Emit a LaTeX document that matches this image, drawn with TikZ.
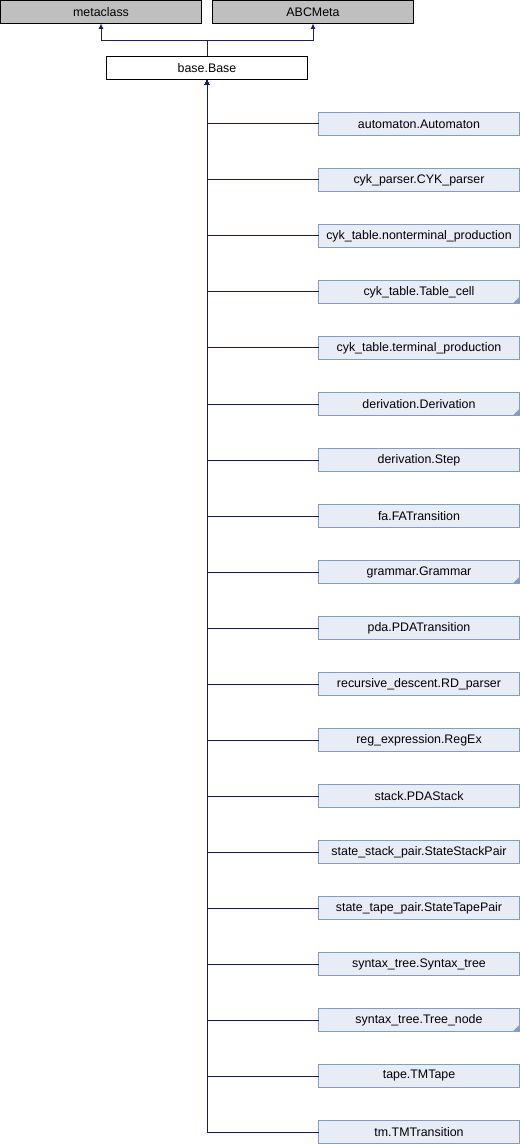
\documentclass[tikz,border=0pt]{standalone}
\usepackage{fontspec}
\setmainfont{Liberation Sans}
\usetikzlibrary{positioning}
\usetikzlibrary{calc}
\usetikzlibrary{arrows.meta}
\definecolor{extgray}{HTML}{BFBFBF}
\definecolor{clsfill}{HTML}{E8ECF5}
\definecolor{clsdraw}{HTML}{7F9BD0}
\definecolor{inhline}{HTML}{191970}
\tikzset{
  cls/.style={draw,line width=0.75pt,outer sep=0pt,minimum width=150.75pt,minimum height=17.25pt,inner sep=0pt,font=\fontsize{9.3}{10}\selectfont},
  extcls/.style={cls,fill=extgray},
  basecls/.style={cls,fill=white},
  subcls/.style={cls,draw=clsdraw,fill=clsfill},
  folded/.style={path picture={\fill[clsdraw] (path picture bounding box.south east) -- ++(0,5pt) -- ++(-5pt,-5pt) -- cycle;}},
  inh/.style={draw=inhline,line width=0.75pt,-{Latex[length=4pt,width=3.75pt]}}
}

\begin{document}
\begin{tikzpicture}[node distance=24.75pt]
  \useasboundingbox (0,0) rectangle (390pt,-858pt);
  \node[extcls,anchor=north west] (meta) at (0.375pt,-0.375pt) {metaclass};
  \node[extcls,right=8.25pt of meta] (abcmeta) {ABCMeta};
  \node[basecls,below=24.75pt of {$(meta.south east)!0.5!(abcmeta.south west)$}] (base) {base.Base};
  \coordinate (split) at ($(base.north)+(0,12pt)$);
  \node[subcls,below right=24.75pt and 8.25pt of base] (automaton) {automaton.Automaton};
  \node[subcls,below= of automaton] (cykparser) {cyk\_parser.CYK\_parser};
  \node[subcls,below= of cykparser] (nonterm) {cyk\_table.nonterminal\_production};
  \node[subcls,folded,below= of nonterm] (tablecell) {cyk\_table.Table\_cell};
  \node[subcls,below= of tablecell] (term) {cyk\_table.terminal\_production};
  \node[subcls,folded,below= of term] (derivation) {derivation.Derivation};
  \node[subcls,below= of derivation] (step) {derivation.Step};
  \node[subcls,below= of step] (fatrans) {fa.FATransition};
  \node[subcls,folded,below= of fatrans] (grammar) {grammar.Grammar};
  \node[subcls,below= of grammar] (pdatrans) {pda.PDATransition};
  \node[subcls,below= of pdatrans] (rdparser) {recursive\_descent.RD\_parser};
  \node[subcls,below= of rdparser] (regex) {reg\_expression.RegEx};
  \node[subcls,below= of regex] (pdastack) {stack.PDAStack};
  \node[subcls,below= of pdastack] (stackpair) {state\_stack\_pair.StateStackPair};
  \node[subcls,below= of stackpair] (tapepair) {state\_tape\_pair.StateTapePair};
  \node[subcls,below= of tapepair] (syntaxtree) {syntax\_tree.Syntax\_tree};
  \node[subcls,folded,below= of syntaxtree] (treenode) {syntax\_tree.Tree\_node};
  \node[subcls,below= of treenode] (tmtape) {tape.TMTape};
  \node[subcls,below= of tmtape] (tmtrans) {tm.TMTransition};
  \draw[inh] (base.north) -- (split) -| (meta.south);
  \draw[inh] (base.north) -- (split) -| (abcmeta.south);
  \foreach \c in {automaton,cykparser,nonterm,tablecell,term,derivation,step,fatrans,grammar,pdatrans,rdparser,regex,pdastack,stackpair,tapepair,syntaxtree,treenode,tmtape,tmtrans}
    \draw[inh] (\c.west) -| (base.south);
\end{tikzpicture}
\end{document}
